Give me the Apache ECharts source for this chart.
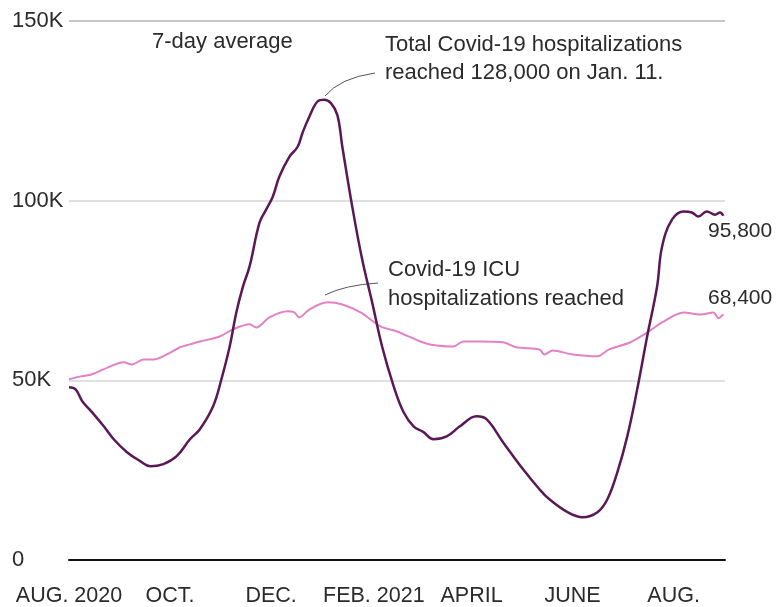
<!DOCTYPE html>
<html>
<head>
<meta charset="utf-8">
<title>Covid-19 hospitalizations</title>
<script src="https://cdn.jsdelivr.net/npm/echarts@6/dist/echarts.min.js"></script>
<style>
  html, body { margin: 0; padding: 0; background: #fff; }
  #main { width: 778px; height: 607px; }
</style>
</head>
<body>
<div id="main"></div>
<script>
// days counted from Aug. 1, 2020
const totalDays = [0, 4, 8, 14, 21, 27, 35, 43, 49, 57, 65, 73, 79, 87, 92, 97, 101, 105, 109, 115, 119, 123, 127, 133, 138, 141, 145, 150, 154, 158, 162, 165, 171, 177, 183, 189, 196, 202, 208, 214, 220, 228, 236, 246, 252, 262, 274, 284, 290, 301, 310, 319, 325, 331, 337, 343, 349, 355, 358, 364, 371, 376, 380, 385, 390, 393, 395];
const totalValues = [48100, 47500, 44200, 41100, 37200, 33600, 30000, 27500, 26100, 26700, 28900, 33600, 36400, 42800, 50300, 59400, 68900, 76100, 81700, 93900, 97500, 101100, 106700, 112200, 115000, 118900, 123300, 127600, 128100, 127200, 123800, 115000, 98300, 83600, 71700, 59400, 48300, 41100, 37200, 35600, 33600, 34400, 37200, 40000, 39200, 32800, 25300, 19700, 16900, 13300, 11900, 13300, 16900, 24400, 34400, 47500, 62200, 76100, 87200, 94700, 97000, 96700, 95600, 97000, 96100, 96700, 95800];

const icuDays = [0, 7, 14, 25, 33, 38, 45, 51, 59, 67, 73, 79, 91, 99, 109, 113, 121, 132, 136, 139, 145, 156, 165, 176, 188, 198, 212, 218, 232, 238, 248, 262, 270, 284, 287, 292, 304, 319, 326, 339, 349, 358, 371, 381, 389, 392, 395];
const icuValues = [50300, 51100, 51700, 53900, 55000, 54400, 55800, 55800, 57200, 59200, 60000, 60800, 62200, 64200, 65600, 64700, 67500, 69200, 68900, 67500, 69700, 71700, 71100, 68900, 65000, 63600, 60800, 60000, 59400, 60800, 60800, 60600, 59200, 58600, 57200, 58300, 57200, 56700, 58600, 60600, 63300, 66100, 68900, 68300, 68900, 67300, 68400];

const monthTicks = [0, 61, 122, 184, 243, 304, 365];
const monthLabels = ['AUG. 2020', 'OCT.', 'DEC.', 'FEB. 2021', 'APRIL', 'JUNE', 'AUG.'];
const yTickLabels = { 0: '0', 50000: '50K', 100000: '100K', 150000: '150K' };

const FONT = '"Liberation Sans", Arial, sans-serif';
const TEXT = '#2b2b2b';

var chartDom = document.getElementById('main');
var myChart = echarts.init(chartDom);
var option;

option = {
  animation: false,
  grid: { left: 69, right: 53, top: 21, bottom: 46 },
  xAxis: {
    type: 'value',
    min: 0,
    max: 396,
    axisLine: { show: true, lineStyle: { color: '#111', width: 2 } },
    axisTick: { show: false },
    splitLine: { show: false },
    axisLabel: {
      customValues: monthTicks,
      formatter: function (v) {
        return monthLabels[monthTicks.indexOf(v)];
      },
      margin: 25,
      color: TEXT,
      fontSize: 21.5,
      fontFamily: FONT
    }
  },
  yAxis: {
    type: 'value',
    min: 0,
    max: 150000,
    interval: 50000,
    axisLine: { show: false },
    axisTick: { show: false },
    splitLine: {
      lineStyle: { color: ['#111', '#d6d6d6', '#d6d6d6', '#b4b4b4'], width: 1.5 }
    },
    axisLabel: {
      formatter: function (v) { return yTickLabels[v]; },
      align: 'left',
      margin: 57,
      color: TEXT,
      fontSize: 22,
      fontFamily: FONT
    }
  },
  series: [
    {
      name: 'ICU',
      type: 'line',
      data: icuDays.map(function (d, i) { return [d, icuValues[i]]; }),
      smooth: 0.3,
      showSymbol: false,
      lineStyle: { color: '#e282c4', width: 2 },
      z: 2
    },
    {
      name: 'Total',
      type: 'line',
      data: totalDays.map(function (d, i) { return [d, totalValues[i]]; }),
      smooth: 0.4,
      showSymbol: false,
      lineStyle: { color: '#5a1856', width: 2.5 },
      z: 3
    }
  ],
  graphic: [
    { type: 'text', left: 152, top: 31, style: { text: '7-day average', fill: TEXT, font: '22px ' + FONT } },
    { type: 'text', left: 385, top: 31, style: { text: 'Total Covid-19 hospitalizations\nreached 128,000 on Jan. 11.', fill: TEXT, font: '22px ' + FONT, lineHeight: 28 } },
    { type: 'bezierCurve', shape: { x1: 325, y1: 96, x2: 375, y2: 73, cpx1: 340, cpy1: 78 }, style: { stroke: '#555', lineWidth: 1, fill: null } },
    { type: 'text', left: 388, top: 255, style: { text: 'Covid-19 ICU\nhospitalizations reached', fill: TEXT, font: '22px ' + FONT, lineHeight: 29 } },
    { type: 'bezierCurve', shape: { x1: 325, y1: 295, x2: 378, y2: 283, cpx1: 345, cpy1: 285 }, style: { stroke: '#555', lineWidth: 1, fill: null } },
    { type: 'text', left: 708, top: 221, style: { text: '95,800', fill: TEXT, font: '21px ' + FONT } },
    { type: 'text', left: 708, top: 288, style: { text: '68,400', fill: TEXT, font: '21px ' + FONT } }
  ]
};
option && myChart.setOption(option);
</script>
</body>
</html>
